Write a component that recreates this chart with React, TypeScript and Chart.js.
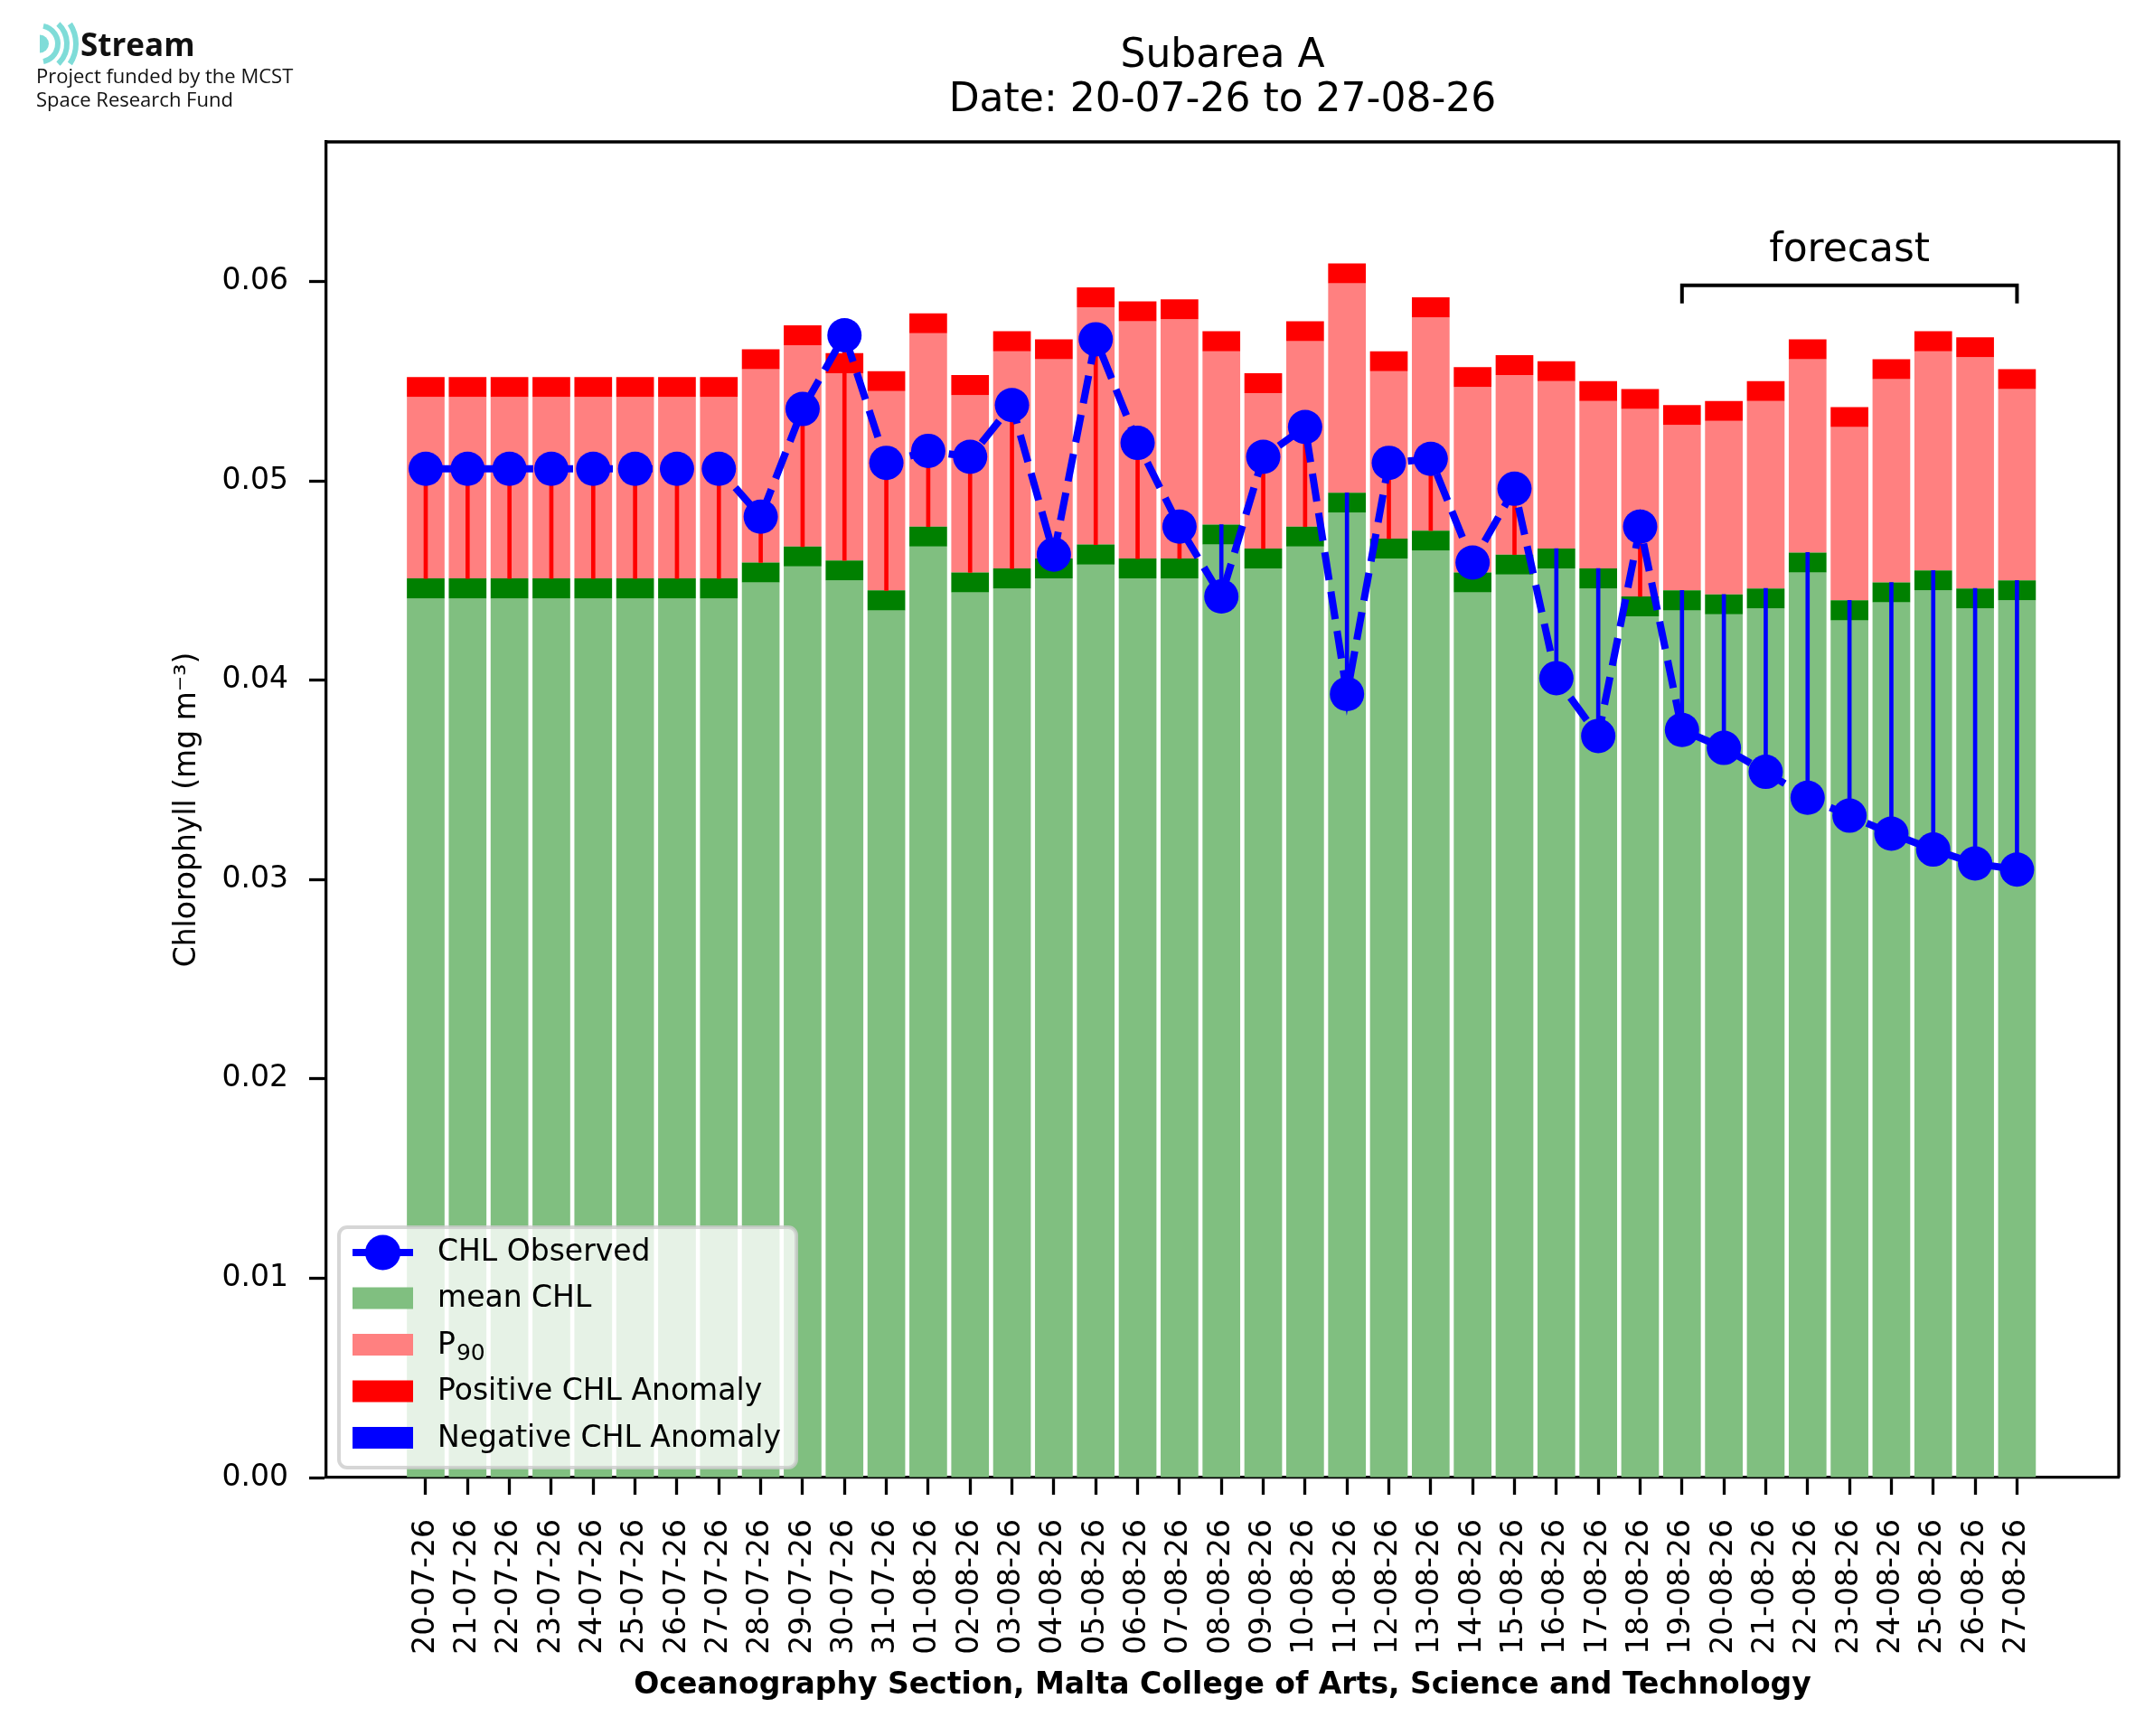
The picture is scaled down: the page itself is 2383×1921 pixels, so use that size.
import { useEffect, useRef } from 'react';
import { Chart, registerables } from 'chart.js';

Chart.register(...registerables);

const dates = [
  '20-07-26', '21-07-26', '22-07-26', '23-07-26', '24-07-26', '25-07-26', '26-07-26', '27-07-26',
  '28-07-26', '29-07-26', '30-07-26', '31-07-26', '01-08-26', '02-08-26', '03-08-26', '04-08-26',
  '05-08-26', '06-08-26', '07-08-26', '08-08-26', '09-08-26', '10-08-26', '11-08-26', '12-08-26',
  '13-08-26', '14-08-26', '15-08-26', '16-08-26', '17-08-26', '18-08-26', '19-08-26', '20-08-26',
  '21-08-26', '22-08-26', '23-08-26', '24-08-26', '25-08-26', '26-08-26', '27-08-26',
];

// top of the light green bar
const meanChl = [
  0.0441, 0.0441, 0.0441, 0.0441, 0.0441, 0.0441, 0.0441, 0.0441,
  0.0449, 0.0457, 0.0450, 0.0435, 0.0467, 0.0444, 0.0446, 0.0451,
  0.0458, 0.0451, 0.0451, 0.0468, 0.0456, 0.0467, 0.0484, 0.0461,
  0.0465, 0.0444, 0.0453, 0.0456, 0.0446, 0.0432, 0.0435, 0.0433,
  0.0436, 0.0454, 0.0430, 0.0439, 0.0445, 0.0436, 0.0440,
];

// top of the light red bar
const p90Chl = [
  0.0542, 0.0542, 0.0542, 0.0542, 0.0542, 0.0542, 0.0542, 0.0542,
  0.0556, 0.0568, 0.0554, 0.0545, 0.0574, 0.0543, 0.0565, 0.0561,
  0.0587, 0.0580, 0.0581, 0.0565, 0.0544, 0.0570, 0.0599, 0.0555,
  0.0582, 0.0547, 0.0553, 0.0550, 0.0540, 0.0536, 0.0528, 0.0530,
  0.0540, 0.0561, 0.0527, 0.0551, 0.0565, 0.0562, 0.0546,
];

const obsChl = [
  0.0506, 0.0506, 0.0506, 0.0506, 0.0506, 0.0506, 0.0506, 0.0506,
  0.0482, 0.0536, 0.0573, 0.0509, 0.0515, 0.0512, 0.0538, 0.0463,
  0.0571, 0.0519, 0.0477, 0.0442, 0.0512, 0.0527, 0.0393, 0.0509,
  0.0511, 0.0459, 0.0496, 0.0401, 0.0372, 0.0477, 0.0375, 0.0366,
  0.0354, 0.0341, 0.0332, 0.0323, 0.0315, 0.0308, 0.0305,
];

const yTicks = [0, 0.01, 0.02, 0.03, 0.04, 0.05, 0.06];

const BAND = 0.001; // thickness of the dark green / red caps
const FORECAST_FROM = 30; // index of 19-08-26
const BRACKET_TOP = 0.0598;
const BRACKET_END = 0.0589;
const FORECAST_LABEL_Y = 0.0610;

const LIGHT_GREEN = '#80bf80';
const DARK_GREEN = '#008000';
const LIGHT_RED = '#ff8080';
const RED = '#ff0000';
const BLUE = '#0000ff';
const FONT = "'DejaVu Sans', sans-serif";

const decorPlugin = {
  id: 'decor',
  afterDraw(chart: any) {
    const { ctx, chartArea: a, scales } = chart;
    const xs = scales.x;
    const ys = scales.y;
    ctx.save();

    // top and right spines
    ctx.strokeStyle = '#000';
    ctx.lineWidth = 3.3;
    ctx.beginPath();
    ctx.moveTo(a.left, a.top);
    ctx.lineTo(a.right, a.top);
    ctx.lineTo(a.right, a.bottom);
    ctx.stroke();

    const cx = (a.left + a.right) / 2;
    ctx.fillStyle = '#000';

    // title
    ctx.textAlign = 'center';
    ctx.textBaseline = 'alphabetic';
    ctx.font = `44px ${FONT}`;
    ctx.fillText('Subarea A', cx, 74);
    ctx.fillText(`Date: ${dates[0]} to ${dates[dates.length - 1]}`, cx, 123);

    // x label
    ctx.font = `bold 33px ${FONT}`;
    ctx.fillText('Oceanography Section, Malta College of Arts, Science and Technology', cx, 1874);

    // y label
    ctx.save();
    ctx.translate(207, (a.top + a.bottom) / 2);
    ctx.rotate(-Math.PI / 2);
    ctx.textBaseline = 'middle';
    ctx.font = `33px ${FONT}`;
    ctx.fillText('Chlorophyll (mg m\u207B\u00B3)', 0, 0);
    ctx.restore();

    // forecast bracket
    const bx1 = xs.getPixelForValue(FORECAST_FROM);
    const bx2 = xs.getPixelForValue(dates.length - 1);
    const byTop = ys.getPixelForValue(BRACKET_TOP);
    const byEnd = ys.getPixelForValue(BRACKET_END);
    ctx.lineWidth = 4;
    ctx.lineJoin = 'miter';
    ctx.beginPath();
    ctx.moveTo(bx1, byEnd);
    ctx.lineTo(bx1, byTop);
    ctx.lineTo(bx2, byTop);
    ctx.lineTo(bx2, byEnd);
    ctx.stroke();
    ctx.font = `44px ${FONT}`;
    ctx.textAlign = 'center';
    ctx.fillText('forecast', (bx1 + bx2) / 2, ys.getPixelForValue(FORECAST_LABEL_Y));

    // legend
    const lx = a.left + 14;
    const ly = a.bottom - 277;
    const lw = 506;
    const lh = 266;
    ctx.beginPath();
    ctx.roundRect(lx, ly, lw, lh, 9);
    ctx.fillStyle = 'rgba(255,255,255,0.8)';
    ctx.fill();
    ctx.strokeStyle = 'rgba(204,204,204,0.8)';
    ctx.lineWidth = 4;
    ctx.stroke();

    const hx1 = lx + 15;
    const hx2 = lx + 82;
    const tx = lx + 109;
    const row = (i: number) => ly + 28 + i * 51.5;
    // observed handle
    ctx.strokeStyle = BLUE;
    ctx.lineWidth = 8;
    ctx.beginPath();
    ctx.moveTo(hx1, row(0));
    ctx.lineTo(hx2, row(0));
    ctx.stroke();
    ctx.fillStyle = BLUE;
    ctx.beginPath();
    ctx.arc((hx1 + hx2) / 2, row(0), 19.5, 0, Math.PI * 2);
    ctx.fill();
    const patches = [LIGHT_GREEN, LIGHT_RED, RED, BLUE];
    patches.forEach((c, i) => {
      ctx.fillStyle = c;
      ctx.fillRect(hx1, row(i + 1) - 13, hx2 - hx1, 24);
    });
    ctx.fillStyle = '#000';
    ctx.textAlign = 'left';
    ctx.textBaseline = 'middle';
    ctx.font = `33px ${FONT}`;
    ctx.fillText('CHL Observed', tx, row(0));
    ctx.fillText('mean CHL', tx, row(1));
    ctx.fillText('P', tx, row(2));
    const pw = ctx.measureText('P').width;
    ctx.font = `25px ${FONT}`;
    ctx.fillText('90', tx + pw + 1, row(2) + 9);
    ctx.font = `33px ${FONT}`;
    ctx.fillText('Positive CHL Anomaly', tx, row(3));
    ctx.fillText('Negative CHL Anomaly', tx, row(4));

    // logo
    ctx.strokeStyle = '#7fdcd8';
    ctx.fillStyle = '#7fdcd8';
    ctx.beginPath();
    ctx.arc(44, 48.5, 10, -Math.PI / 2, Math.PI / 2);
    ctx.fill();
    ctx.lineWidth = 6;
    [20, 30, 40].forEach((r) => {
      const ang = Math.asin(Math.min(0.98, 22 / r));
      ctx.beginPath();
      ctx.arc(44, 48.5, r, -ang, ang);
      ctx.stroke();
    });
    ctx.fillStyle = '#111';
    ctx.textAlign = 'left';
    ctx.textBaseline = 'alphabetic';
    ctx.font = "bold 35px 'Open Sans', sans-serif";
    ctx.fillText('Stream', 89, 62);
    ctx.font = "22px 'Open Sans', sans-serif";
    ctx.fillText('Project funded by the MCST', 40, 92);
    ctx.fillText('Space Research Fund', 40, 118);

    ctx.restore();
  },
};

const App = () => {
  const chartRef = useRef<HTMLCanvasElement>(null);
  const chartInstance = useRef<Chart | null>(null);

  useEffect(() => {
    document.body.style.margin = '0';
    if (!chartRef.current) return;
    if (chartInstance.current) chartInstance.current.destroy();
    const ctx = chartRef.current.getContext('2d');
    if (!ctx) return;

    Chart.defaults.font.family = FONT;
    Chart.defaults.color = '#000';

    const base = meanChl.map((m) => m + BAND);
    const posStem = obsChl
      .map((v, i) => ({ x: i, y: [base[i], v] }))
      .filter((d) => d.y[1] > d.y[0]);
    const negStem = obsChl
      .map((v, i) => ({ x: i, y: [v, base[i]] }))
      .filter((d) => d.y[0] < d.y[1]);

    const barCommon = {
      grouped: false,
      categoryPercentage: 1,
      barPercentage: 0.9,
      borderWidth: 0,
    };

    chartInstance.current = new Chart(ctx, {
      type: 'bar',
      data: {
        datasets: [
          {
            type: 'line',
            label: 'CHL Observed',
            data: obsChl.map((v, i) => ({ x: i, y: v })),
            borderColor: BLUE,
            backgroundColor: BLUE,
            borderWidth: 8,
            borderDash: [31, 13],
            pointRadius: 19,
            pointBorderWidth: 0,
            pointBackgroundColor: BLUE,
            tension: 0,
          } as any,
          { label: 'pos', data: posStem, backgroundColor: RED, grouped: false, barThickness: 4, borderWidth: 0 } as any,
          { label: 'neg', data: negStem, backgroundColor: BLUE, grouped: false, barThickness: 4, borderWidth: 0 } as any,
          {
            label: 'Positive CHL Anomaly',
            data: p90Chl.map((p, i) => ({ x: i, y: [p, p + BAND] })),
            backgroundColor: RED,
            ...barCommon,
          } as any,
          {
            label: 'mean band',
            data: meanChl.map((m, i) => ({ x: i, y: [m, m + BAND] })),
            backgroundColor: DARK_GREEN,
            ...barCommon,
          } as any,
          {
            label: 'P90',
            data: p90Chl.map((p, i) => ({ x: i, y: [meanChl[i] + BAND, p] })),
            backgroundColor: LIGHT_RED,
            ...barCommon,
          } as any,
          {
            label: 'mean CHL',
            data: meanChl.map((m, i) => ({ x: i, y: [0, m] })),
            backgroundColor: LIGHT_GREEN,
            ...barCommon,
          } as any,
        ],
      },
      options: {
        animation: false,
        responsive: false,
        devicePixelRatio: 1,
        layout: { padding: { top: 157, right: 39, left: 0, bottom: 0 } },
        plugins: { legend: { display: false }, tooltip: { enabled: false } },
        scales: {
          x: {
            type: 'linear',
            min: -2.374,
            max: 40.43,
            offset: false,
            afterFit: (s: any) => {
              s.height = 286;
            },
            afterBuildTicks: (s: any) => {
              s.ticks = dates.map((_, i) => ({ value: i }));
            },
            ticks: {
              autoSkip: false,
              minRotation: 90,
              maxRotation: 90,
              padding: 27,
              font: { size: 33, family: FONT },
              color: '#000',
              callback: (_v: any, i: number) => dates[i],
            },
            grid: {
              display: true,
              offset: false,
              drawOnChartArea: false,
              drawTicks: true,
              tickLength: 19,
              tickWidth: 3.3,
              tickColor: '#000',
            },
            border: { display: true, color: '#000', width: 3.3 },
          },
          y: {
            type: 'linear',
            min: 0,
            max: 0.067,
            afterFit: (s: any) => {
              s.width = 361;
            },
            afterBuildTicks: (s: any) => {
              s.ticks = yTicks.map((v) => ({ value: v }));
            },
            ticks: {
              padding: 23,
              font: { size: 33, family: FONT },
              color: '#000',
              callback: (v: any) => Number(v).toFixed(2),
            },
            grid: {
              display: true,
              drawOnChartArea: false,
              drawTicks: true,
              tickLength: 19,
              tickWidth: 3.3,
              tickColor: '#000',
            },
            border: { display: true, color: '#000', width: 3.3 },
          },
        },
      } as any,
      plugins: [decorPlugin],
    });

    return () => {
      if (chartInstance.current) {
        chartInstance.current.destroy();
        chartInstance.current = null;
      }
    };
  }, []);

  return (
    <div style={{ width: 2383, height: 1921, background: '#fff' }}>
      <canvas ref={chartRef} width={2383} height={1921} style={{ width: 2383, height: 1921 }} />
    </div>
  );
};

export default App;
